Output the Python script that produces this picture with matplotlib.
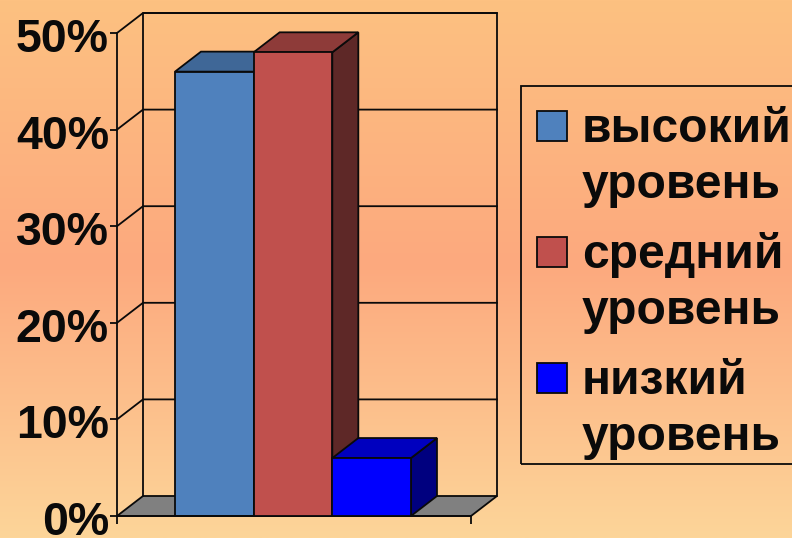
import numpy as np
import matplotlib
matplotlib.use("Agg")
import matplotlib.pyplot as plt
from matplotlib.colors import LinearSegmentedColormap
from matplotlib.patches import Polygon, Rectangle
from matplotlib.transforms import offset_copy

series = ["высокий\nуровень", "средний\nуровень", "низкий\nуровень"]
values = [46, 48, 6]
face = ["#4F81BD", "#C0504D", "#0000FF"]
top = ["#3F6797", "#8E3B39", "#0000BF"]
side = ["#2F4D71", "#5E2827", "#00007F"]
yticks = [0, 10, 20, 30, 40, 50]
ylabels = ["0%", "10%", "20%", "30%", "40%", "50%"]

W, H = 792, 538
DX, DY = 26, 20
LW = 1.3
INK = "#0A0A0A"
plt.rcParams["font.family"] = ["Liberation Sans", "DejaVu Sans"]
fig = plt.figure(figsize=(W / 100, H / 100), dpi=100)

bg = fig.add_axes([0, 0, 1, 1], zorder=0)
bg.axis("off")
cmap = LinearSegmentedColormap.from_list(
    "bg", [(0, "#FDC181"), (0.49, "#FCA97E"), (1, "#FDD599")])
bg.imshow(np.linspace(0, 1, 256)[:, None], aspect="auto", cmap=cmap, extent=[0, 1, 0, 1], origin="upper")

L, R, B, T = 117, 471, 516, 33
ax = fig.add_axes([L / W, 1 - B / H, (R - L) / W, (B - T) / H], zorder=1)
ax.patch.set_alpha(0)
ax.set_xlim(0, 4.5)
ax.set_ylim(0, 50)
for s in ["top", "right"]:
    ax.spines[s].set_visible(False)
for s in ["left", "bottom"]:
    ax.spines[s].set_linewidth(LW)
    ax.spines[s].set_color(INK)
ax.set_yticks(yticks, ylabels, fontsize=33.5, fontweight="bold", color=INK)
ax.set_xticks([0, 4.5], ["", ""])
ax.tick_params(axis="y", length=5, width=LW, pad=0.8, color=INK)
ax.tick_params(axis="x", length=5.5, width=LW, color=INK)
for lab in ax.get_yticklabels():
    lab.set_transform(offset_copy(lab.get_transform(), fig=fig, y=-2, units="dots"))

ux = (R - L) / 4.5
uy = (B - T) / 50
dx, dy = DX / ux, DY / uy
edge = dict(edgecolor=INK, linewidth=LW, clip_on=False)

# floor and walls
ax.add_patch(Polygon([(0, 0), (dx, dy), (4.5 + dx, dy), (4.5, 0)], closed=True,
                     facecolor="#808080", zorder=1, **edge))
ax.plot([dx, dx, 4.5 + dx, 4.5 + dx], [dy, 50 + dy, 50 + dy, dy], color=INK, lw=LW, clip_on=False, zorder=1)
for v in yticks[1:]:
    ax.plot([0, dx, 4.5 + dx], [v, v + dy, v + dy], color=INK, lw=LW, clip_on=False, zorder=1)

# bars
x0 = 0.737
for i, (v, f, t, sd) in enumerate(zip(values, face, top, side)):
    x = x0 + i
    z = 2 + i
    ax.add_patch(Polygon([(x + 1, 0), (x + 1 + dx, dy), (x + 1 + dx, v + dy), (x + 1, v)], closed=True,
                         facecolor=sd, zorder=z, **edge))
    ax.add_patch(Polygon([(x, v), (x + dx, v + dy), (x + 1 + dx, v + dy), (x + 1, v)], closed=True,
                         facecolor=t, zorder=z, **edge))
    ax.add_patch(Rectangle((x, 0), 1, v, facecolor=f, zorder=z, **edge))

# legend
def fx(px):
    return px / W
def fy(py):
    return 1 - py / H

fig.add_artist(Rectangle((fx(521), fy(464)), 1, fy(86) - fy(464), transform=fig.transFigure,
                         facecolor="none", edgecolor=INK, linewidth=LW, zorder=3))
sw_y = [141, 267, 393]
base_y = [142, 268, 394]
for name, f, sy, by in zip(series, face, sw_y, base_y):
    fig.add_artist(Rectangle((fx(537), fy(sy)), 30 / W, 30 / H, transform=fig.transFigure,
                             facecolor=f, edgecolor=INK, linewidth=LW, zorder=4))
    a, b = name.split("\n")
    fig.text(fx(582), fy(by), a, fontsize=34.6, fontweight="bold", color=INK, va="baseline", zorder=4)
    fig.text(fx(582), fy(by + 56), b, fontsize=34.6, fontweight="bold", color=INK, va="baseline", zorder=4)

fig.savefig("out.png", dpi=100)
